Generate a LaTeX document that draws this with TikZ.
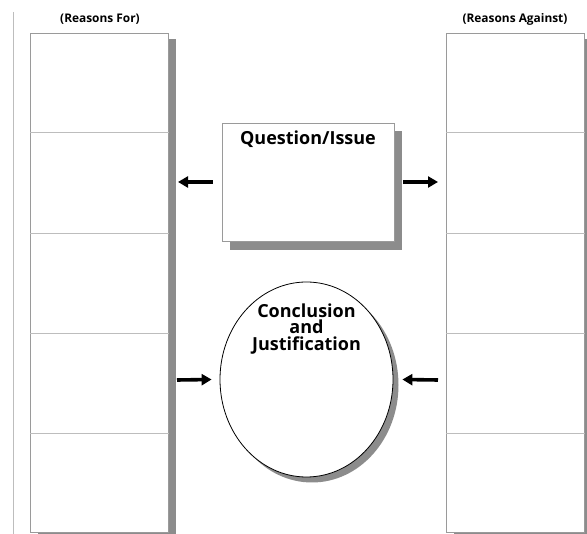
\documentclass[tikz,border=0pt]{standalone}
\usepackage{fontspec}
\setmainfont{Open Sans}
\usetikzlibrary{arrows.meta,shapes.geometric}

\definecolor{rulegray}{HTML}{9A9A9A}
\definecolor{linegray}{HTML}{BDBDBD}
\definecolor{shadegray}{HTML}{8C8C8C}

\tikzset{
  column/.style={draw=rulegray,line width=0.9pt,fill=white,minimum width=138pt,minimum height=499pt,inner sep=0pt},
  shade/.style={fill=shadegray,draw=none},
  heading/.style={font=\fontsize{11.9}{13}\selectfont\bfseries,inner sep=0pt},
  title/.style={font=\fontsize{18}{16.8}\selectfont\bfseries,inner sep=0pt,align=center},
  pointer/.style={line width=3.6pt,-{Triangle[length=10pt,width=11pt]}}
}

\begin{document}
\begin{tikzpicture}[x=1pt,y=-1pt]
\useasboundingbox (0,0) rectangle (587,534);

% margin rule
\draw[linegray,line width=1pt] (13,12) -- (13,534);

% the two columns
\fill[shade] (38,39) rectangle (176,540);
\node[column,anchor=north west] (forcol) at (30,33) {};
\fill[shade] (454,39) rectangle (592,540);
\node[column,anchor=north west] (againstcol) at (446,33) {};

\foreach \y in {132,233,333,433}{
  \draw[linegray,line width=0.8pt] (forcol.west |- 0,\y) -- (forcol.east |- 0,\y);
  \draw[linegray,line width=0.8pt] (againstcol.west |- 0,\y) -- (againstcol.east |- 0,\y);
}

\node[heading] (forhead) at (100,19) {(Reasons For)};
\node[heading] (againsthead) at (515,19) {(Reasons Against)};

% question box
\fill[shade] (230,131) rectangle (402,250);
\node[draw=rulegray,line width=0.9pt,fill=white,minimum width=172pt,minimum height=118pt,inner sep=0pt] (issue) at (308,182) {};
\node[title] (issuetext) at (308,139) {Question/Issue};

% conclusion oval
\fill[shade] (312,385) ellipse [x radius=86.5,y radius=97.5];
\node[ellipse,draw=black,line width=0.8pt,fill=white,minimum width=173pt,minimum height=195pt,inner sep=0pt] (concl) at (306.5,379.5) {};
\node[title] (concltext) at (306.5,329) {Conclusion\\and\\Justification};

% arrows
\coordinate (forup) at (178,182);
\coordinate (againstup) at (438,182);
\coordinate (forlow) at (177,380);
\coordinate (againstlow) at (438,380);
\draw[pointer] (issue.west) ++(-9,0) -- (forup);
\draw[pointer] (issue.east) ++(9,0) -- (againstup);
\draw[pointer] (forlow) -- ([xshift=-8pt]concl.west);
\draw[pointer] (againstlow) -- ([xshift=9pt]concl.east);
\end{tikzpicture}
\end{document}
